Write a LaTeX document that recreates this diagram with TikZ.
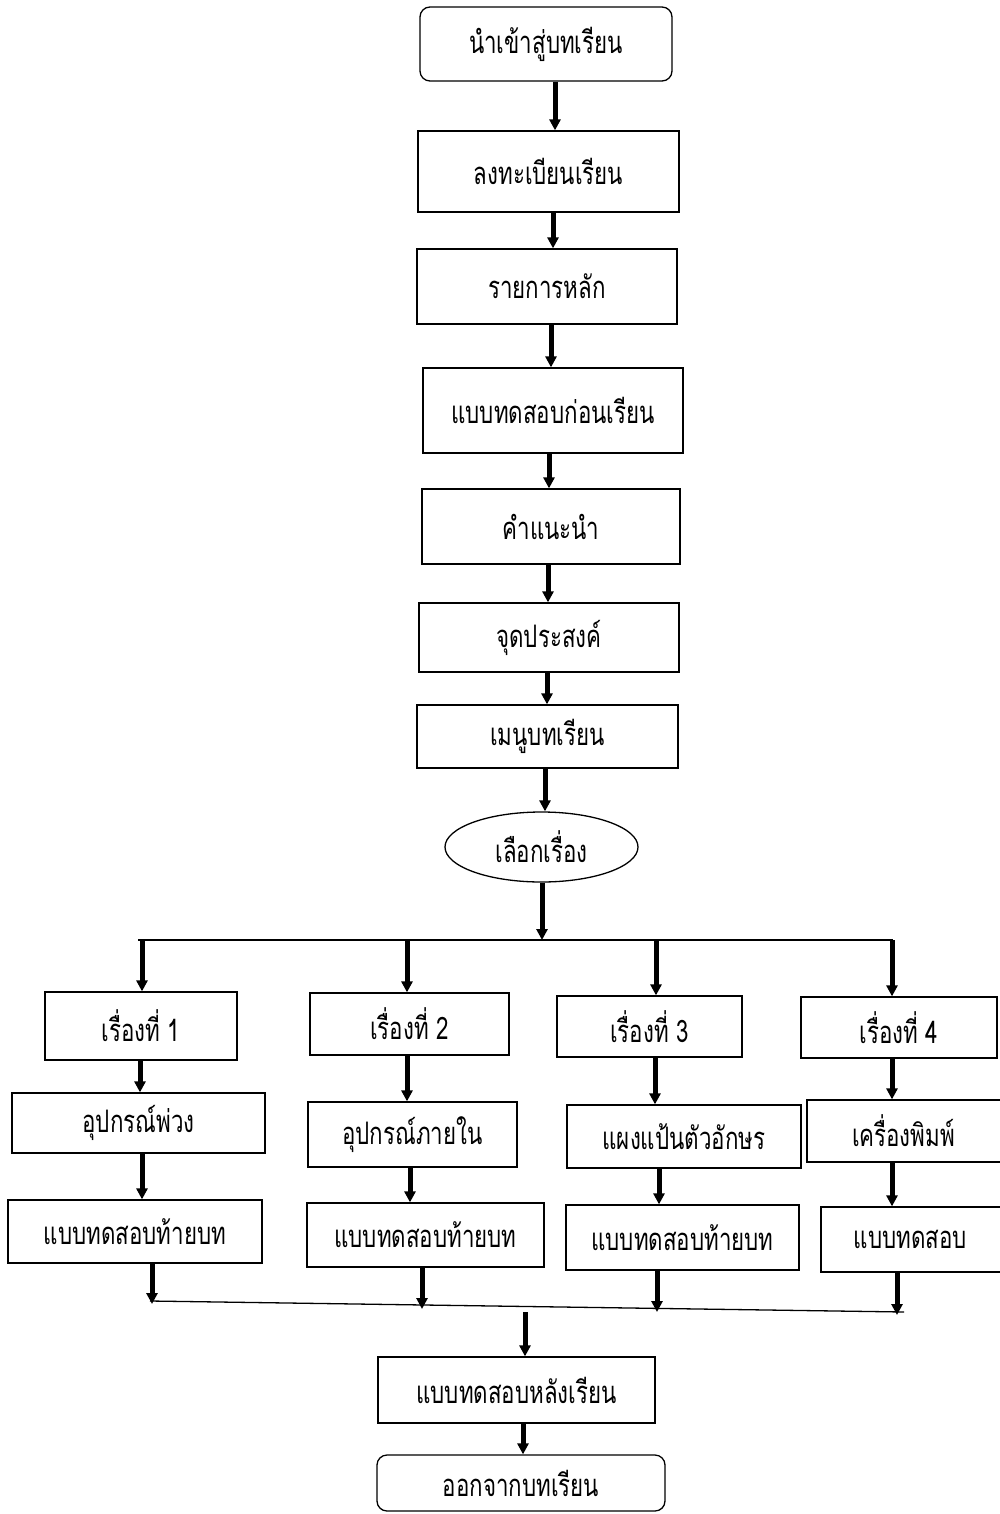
\documentclass[tikz,border=0pt]{standalone}
\usepackage{fontspec}
\newfontfamily\thai[Script=Thai,FakeStretch=0.72]{Loma}
\usetikzlibrary{arrows.meta,shapes.geometric,calc}
\begin{document}
\begin{tikzpicture}[x=1pt,y=-1pt,
  box/.style={draw, line width=1.3pt, inner sep=0pt, font=\thai\fontsize{31}{33}\selectfont},
  rbox/.style={box, rounded corners=10pt},
  arr/.style={line width=5pt, -{Triangle[width=11pt,length=11pt]}},
  ln/.style={line width=1.3pt}]
\useasboundingbox (0,0) rectangle (999,1514);
% main column
\node[rbox, minimum width=252pt, minimum height=74pt] (start) at (546,44) {นำเข้าสู่บทเรียน};
\node[box, minimum width=261pt, minimum height=81pt] (reg) at (548.5,171.5) {ลงทะเบียนเรียน};
\node[box, minimum width=260pt, minimum height=75pt] (main) at (547,286.5) {รายการหลัก};
\node[box, minimum width=260pt, minimum height=85pt] (pre) at (553,410.5) {แบบทดสอบก่อนเรียน};
\node[box, minimum width=258pt, minimum height=75pt] (instr) at (551,526.5) {คำแนะนำ};
\node[box, minimum width=260pt, minimum height=69pt] (obj) at (549,637.5) {จุดประสงค์};
\node[box, minimum width=261pt, minimum height=63pt] (menu) at (547.5,736.5) {เมนูบทเรียน};
\node[box, ellipse, minimum width=193pt, minimum height=70pt] (sel) at (541.5,847) {เลือกเรื่อง};
% topics
\node[box, minimum width=192pt, minimum height=68pt] (t1) at (141,1026) {เรื่องที่ 1};
\node[box, minimum width=199pt, minimum height=62pt] (t2) at (409.5,1024) {เรื่องที่ 2};
\node[box, minimum width=185pt, minimum height=61pt] (t3) at (649.5,1026.5) {เรื่องที่ 3};
\node[box, minimum width=196pt, minimum height=61pt] (t4) at (899,1027.5) {เรื่องที่ 4};
\node[box, minimum width=253pt, minimum height=60pt] (d1) at (138.5,1123) {อุปกรณ์พ่วง};
\node[box, minimum width=209pt, minimum height=65pt] (d2) at (412.5,1134.5) {อุปกรณ์ภายใน};
\node[box, minimum width=234pt, minimum height=63pt] (d3) at (684,1136.5) {แผงแป้นตัวอักษร};
\node[box, minimum width=203pt, minimum height=62pt, text width=190pt, align=center] (d4) at (908.5,1131) {\hspace*{-10pt}เครื่องพิมพ์};
\node[box, minimum width=254pt, minimum height=63pt] (e1) at (135,1231.5) {แบบทดสอบท้ายบท};
\node[box, minimum width=237pt, minimum height=64pt] (e2) at (425.5,1235) {แบบทดสอบท้ายบท};
\node[box, minimum width=233pt, minimum height=65pt] (e3) at (682.5,1237.5) {แบบทดสอบท้ายบท};
\node[box, minimum width=189pt, minimum height=65pt, text width=170pt, align=center] (e4) at (915.5,1239.5) {\hspace*{-10pt}แบบทดสอบ};
\node[box, minimum width=277pt, minimum height=66pt] (post) at (516.5,1390) {แบบทดสอบหลังเรียน};
\node[rbox, minimum width=288pt, minimum height=56pt] (fin) at (521,1483) {ออกจากบทเรียน};
% column coordinates
\coordinate (c1) at (555,0);
\coordinate (c2) at (553,0);
\coordinate (c3) at (551,0);
\coordinate (c4) at (549,0);
\coordinate (c5) at (548,0);
\coordinate (c6) at (547,0);
\coordinate (c7) at (545,0);
\coordinate (c8) at (542,0);
% main flow
\draw[arr] (start.south -| c1) -- (reg.north -| c1);
\draw[arr] (reg.south -| c2) -- (main.north -| c2);
\draw[arr] (main.south -| c3) -- (pre.north -| c3);
\draw[arr] (pre.south -| c4) -- (instr.north -| c4);
\draw[arr] (instr.south -| c5) -- (obj.north -| c5);
\draw[arr] (obj.south -| c6) -- (menu.north -| c6);
\draw[arr] (menu.south -| c7) -- (sel.north -| c7);
% split line
\coordinate (hl) at (138,940);
\coordinate (hr) at (893,940);
\draw[arr] (sel.south -| c8) -- (c8 |- hl);
\draw[ln] (hl) -- (hr);
\coordinate (s1) at (142,940);
\coordinate (s2) at (407,940);
\coordinate (s3) at (656,940);
\coordinate (s4) at (892,940);
\draw[arr] (s1) -- (t1.north -| s1);
\draw[arr] (s2) -- (t2.north -| s2);
\draw[arr] (s3) -- (t3.north -| s3);
\draw[arr] (s4) -- (t4.north -| s4);
% topic columns
\coordinate (u1) at (140,0);
\coordinate (v1) at (142,0);
\coordinate (u2) at (407,0);
\coordinate (v2) at (410,0);
\coordinate (u3) at (655,0);
\coordinate (v3) at (659,0);
\coordinate (u4) at (892,0);
\coordinate (v4) at (892,0);
\draw[arr] (t1.south -| u1) -- (d1.north -| u1);
\draw[arr] (d1.south -| v1) -- (e1.north -| v1);
\draw[arr] (t2.south -| u2) -- (d2.north -| u2);
\draw[arr] (d2.south -| v2) -- (e2.north -| v2);
\draw[arr] (t3.south -| u3) -- (d3.north -| u3);
\draw[arr] (d3.south -| v3) -- (e3.north -| v3);
\draw[arr] (t4.south -| u4) -- (d4.north -| u4);
\draw[arr] (d4.south -| v4) -- (e4.north -| v4);
% join line
\coordinate (bl) at (150,1301);
\coordinate (br) at (904,1312);
\draw[ln] (bl) -- (br);
\coordinate (b1) at (152,1304);
\coordinate (b2) at (422,1309);
\coordinate (b3) at (657,1312);
\coordinate (b4) at (897,1315);
\draw[arr] (e1.south -| b1) -- (b1);
\draw[arr] (e2.south -| b2) -- (b2);
\draw[arr] (e3.south -| b3) -- (b3);
\draw[arr] (e4.south -| b4) -- (b4);
\coordinate (mid) at (525,1312);
\coordinate (c9) at (523,0);
\draw[arr] (mid) -- (post.north -| mid);
\draw[arr] (post.south -| c9) -- (fin.north -| c9);
\end{tikzpicture}
\end{document}
